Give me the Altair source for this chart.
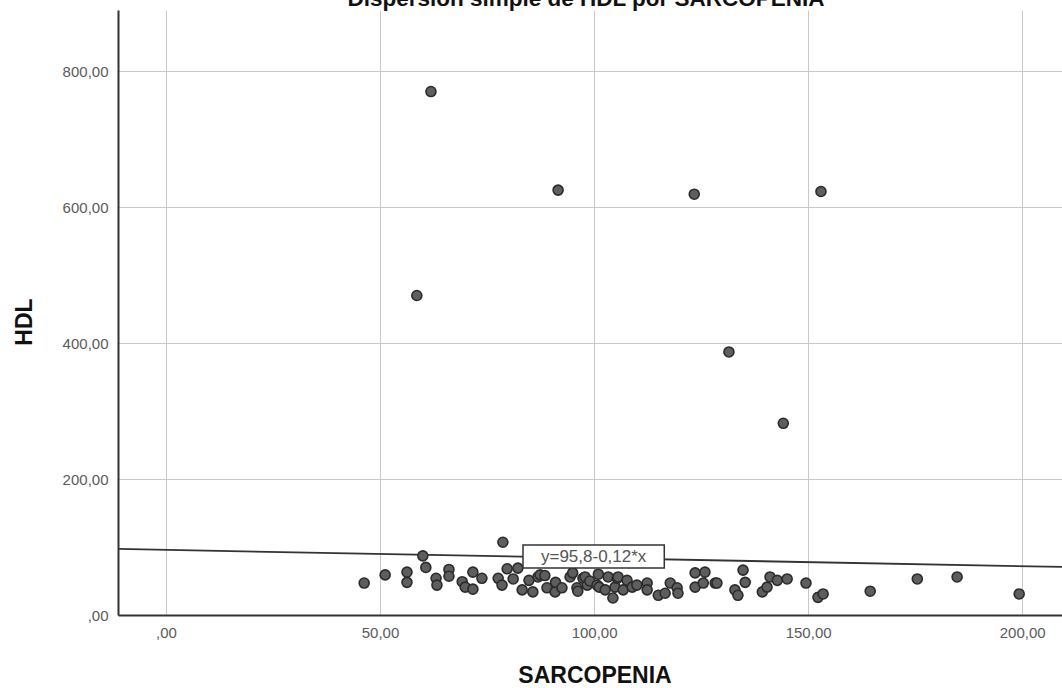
import altair as alt
import pandas as pd

# Scatter data (SARCOPENIA, HDL)
sarcopenia = [
    61.9, 58.6, 91.6, 123.4, 153.0, 131.5, 144.2,
    46.3, 51.2, 56.3, 56.3, 60.0, 60.7, 63.1, 63.3, 66.1, 66.1, 69.2, 69.9,
    71.7, 71.7, 73.8, 77.6, 78.7, 78.5, 79.7, 81.1, 82.2, 83.2, 84.8, 86.9,
    85.7, 87.4, 88.5, 89.0, 90.9, 91.0, 92.5, 94.4, 95.0, 96.0, 96.2, 97.4,
    97.9, 98.4, 99.0, 100.7, 101.0, 101.2, 102.6, 103.3, 104.4, 104.9, 105.4,
    105.6, 106.8, 107.7, 108.9, 110.0, 112.4, 112.4, 115.0, 116.6, 117.8,
    119.4, 119.6, 123.6, 123.6, 125.9, 125.5, 128.3, 128.7, 132.9, 133.6,
    134.8, 135.3, 139.3, 140.4, 141.1, 142.8, 145.1, 149.5, 152.3, 153.5,
    164.5, 175.5, 184.8, 199.3,
]
hdl = [
    770, 470, 625, 619, 623, 387, 282,
    47, 59, 63, 48, 87, 70, 54, 44, 67, 57, 49, 41,
    63, 38, 54, 54, 107, 44, 68, 53, 69, 37, 51, 56,
    34, 59, 58, 40, 34, 48, 40, 56, 62, 40, 35, 54,
    56, 44, 50, 44, 60, 41, 37, 56, 25, 41, 54,
    56, 37, 51, 41, 44, 47, 37, 29, 32, 47,
    40, 32, 62, 41, 63, 47, 47, 47, 37, 29,
    66, 48, 34, 41, 56, 51, 53, 47, 26, 31,
    35, 53, 56, 31,
]

# Fitted line as printed on the chart: y = 95,8 - 0,12*x
fit_intercept = 95.8
fit_slope = -0.12
x_domain = [-11.2, 209.3]
y_domain = [0, 890]
x_ticks = [0, 50, 100, 150, 200]
y_ticks = [0, 200, 400, 600, 800]

title_text = "Dispersión simple de HDL por SARCOPENIA"
fit_label = "y=95,8-0,12*x"

pts = pd.DataFrame({"SARCOPENIA": sarcopenia, "HDL": hdl})
line_df = pd.DataFrame({
    "SARCOPENIA": x_domain,
    "HDL": [fit_intercept + fit_slope * v for v in x_domain],
})
box_df = pd.DataFrame({"x1": [83.4], "x2": [116.4], "y1": [69.0], "y2": [103.0],
                       "xc": [99.9], "yc": [86.0], "label": [fit_label]})

label_expr = "datum.value == 0 ? ',00' : replace(format(datum.value, '.2f'), '.', ',')"

FONT = "Liberation Sans"

x_scale = alt.Scale(domain=x_domain, nice=False, zero=False)
y_scale = alt.Scale(domain=y_domain, nice=False)

x_axis = alt.Axis(values=x_ticks, labelExpr=label_expr, title=None, grid=True,
                  ticks=False, tickSize=0, labelPadding=10, labelFontSize=15,
                  labelFont=FONT, labelColor="#5a5a5a", domainColor="#333333",
                  domainWidth=2, gridColor="#c8c8c8", gridWidth=1, labelFlush=False)
y_axis = alt.Axis(values=y_ticks, labelExpr=label_expr, title=None, grid=True,
                  ticks=False, tickSize=0, labelPadding=10, labelFontSize=15,
                  labelFont=FONT, labelColor="#5a5a5a", domainColor="#333333",
                  domainWidth=2, gridColor="#c8c8c8", gridWidth=1, labelFlush=False)

line = alt.Chart(line_df).mark_line(color="#333333", strokeWidth=1.8, clip=True).encode(
    x=alt.X("SARCOPENIA:Q", scale=x_scale, axis=x_axis),
    y=alt.Y("HDL:Q", scale=y_scale, axis=y_axis),
)

points = alt.Chart(pts).mark_point(filled=True, shape="circle", size=100, fill="#5e5e5e",
                                   stroke="#2b2b2b", strokeWidth=1.6, opacity=1).encode(
    x=alt.X("SARCOPENIA:Q", scale=x_scale),
    y=alt.Y("HDL:Q", scale=y_scale),
)

box = alt.Chart(box_df).mark_rect(fill="white", stroke="#333333", strokeWidth=1.5).encode(
    x=alt.X("x1:Q", scale=x_scale), x2="x2:Q",
    y=alt.Y("y1:Q", scale=y_scale), y2="y2:Q",
)
box_text = alt.Chart(box_df).mark_text(font=FONT, fontSize=17, color="#555555",
                                       align="center", baseline="middle").encode(
    x=alt.X("xc:Q", scale=x_scale), y=alt.Y("yc:Q", scale=y_scale), text="label:N",
)

title_df = pd.DataFrame({"t": [title_text], "xt": ["SARCOPENIA"], "yt": ["HDL"]})
title = alt.Chart(title_df).mark_text(font=FONT, fontSize=22.5, fontWeight="bold",
                                      color="#111111", align="center",
                                      baseline="alphabetic").encode(
    x=alt.value(468), y=alt.value(-4), text="t:N")
xtitle = alt.Chart(title_df).mark_text(font=FONT, fontSize=23, fontWeight="bold",
                                       color="#111111", align="center",
                                       baseline="alphabetic").encode(
    x=alt.value(477), y=alt.value(673), text="xt:N")
ytitle = alt.Chart(title_df).mark_text(font=FONT, fontSize=23, fontWeight="bold",
                                       color="#111111", align="center",
                                       baseline="middle", angle=270).encode(
    x=alt.value(-93), y=alt.value(312), text="yt:N")

chart = alt.layer(line, points, box, box_text, title, xtitle, ytitle).properties(
    width=944, height=605,
    autosize=alt.AutoSizeParams(type="none"),
    padding={"left": 118, "top": 10, "right": 0, "bottom": 73},
    background="white",
).configure_view(stroke=None)

chart.save("out.html", embed_options={"renderer": "svg", "actions": False})
